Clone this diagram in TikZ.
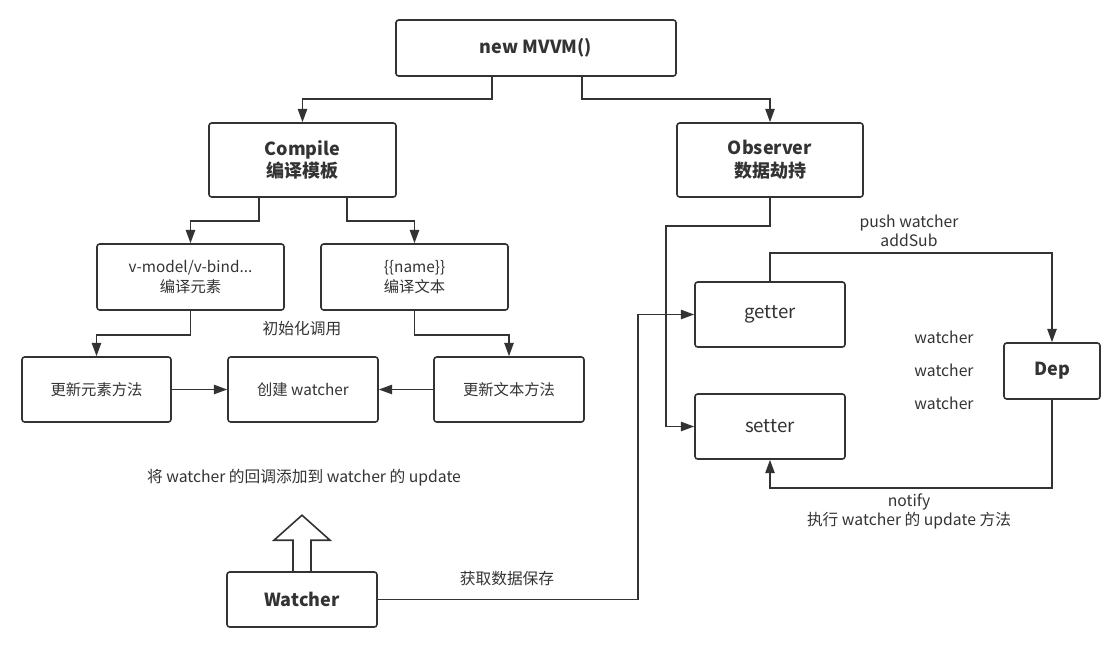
\documentclass[tikz,border=0pt]{standalone}
\usepackage{fontspec}
\setmainfont{Noto Sans CJK SC}
\usetikzlibrary{arrows.meta,calc}
\definecolor{ink}{HTML}{333333}
\tikzset{
  box/.style={draw=ink, line width=1.2pt, rounded corners=2pt, text=ink, align=center, inner sep=0pt},
  big/.style={box, font=\fontsize{13.5}{17}\selectfont\bfseries},
  small/.style={box, font=\fontsize{11.5}{15}\selectfont},
  mid/.style={box, font=\fontsize{14}{17}\selectfont},
  lbl/.style={text=ink, align=center, inner sep=0pt, font=\fontsize{11.8}{14.5}\selectfont},
  conn/.style={draw=ink, line width=1.2pt},
  arr/.style={conn, -{Triangle[length=10pt,width=7pt]}},
}
\begin{document}
\begin{tikzpicture}[x=0.75pt,y=-0.75pt]
\useasboundingbox (0,0) rectangle (1118,644);
% nodes
\node[big, minimum width=210pt, minimum height=42pt] (mvvm) at (536,48) {new MVVM()};
\node[big, minimum width=140.25pt, minimum height=55.5pt] (compile) at (302.5,160) {Compile\\编译模板};
\node[big, minimum width=139.5pt, minimum height=55.5pt] (observer) at (770,160) {Observer\\数据劫持};
\node[small, minimum width=140.25pt, minimum height=49.5pt] (vmodel) at (190.5,277) {v-model/v-bind...\\编译元素};
\node[small, minimum width=140.25pt, minimum height=49.5pt] (name) at (414.5,277) {\{\{name\}\}\\编译文本};
\node[small, minimum width=111.75pt, minimum height=48.75pt] (upel) at (96.5,389.5) {更新元素方法};
\node[small, minimum width=112.5pt, minimum height=48.75pt] (create) at (303,389.5) {创建 watcher};
\node[small, minimum width=112.5pt, minimum height=48.75pt] (uptext) at (509,389.5) {更新文本方法};
\node[mid, minimum width=112.5pt, minimum height=48.75pt] (getter) at (770,314.5) {getter};
\node[mid, minimum width=112.5pt, minimum height=48.75pt] (setter) at (770,426.5) {setter};
\node[big, minimum width=72pt, minimum height=42pt] (dep) at (1052,371) {Dep};
\node[big, minimum width=112.5pt, minimum height=41.25pt] (watcher) at (302,599.5) {Watcher};
% labels
\node[lbl] (linit) at (302,329) {初始化调用};
\node[lbl] (lcb) at (304,478) {将 watcher 的回调添加到 watcher 的 update};
\node[lbl] (lpush) at (909,230.5) {push watcher\\addSub};
\node[lbl] (lw1) at (944,337) {watcher};
\node[lbl] (lw2) at (944,370) {watcher};
\node[lbl] (lw3) at (944,403) {watcher};
\node[lbl] (lnotify) at (909,511.5) {notify\\执行 watcher 的 update 方法};
\node[lbl] (lget) at (507,579) {获取数据保存};
% connectors
\draw[arr] ($(mvvm.south)+(-44,0)$) -- ++(0,22) -| (compile.north);
\draw[arr] ($(mvvm.south)+(46,0)$) -- ++(0,22) -| (observer.north);
\draw[arr] ($(compile.south)+(-43.5,0)$) -- ++(0,23) -| (vmodel.north);
\draw[arr] ($(compile.south)+(44.5,0)$) -- ++(0,23) -| (name.north);
\draw[arr] (vmodel.south) -- ++(0,24) -| (upel.north);
\draw[arr] (name.south) -- ++(0,24) -| (uptext.north);
\draw[arr] (upel.east) -- (create.west);
\draw[arr] (uptext.west) -- (create.east);
\draw[arr] (observer.south) -- ++(0,28) -| ($(setter.west)+(-28,0)$) -- (setter.west);
\draw[arr] (getter.north) -- ++(0,-28) -| (dep.north);
\draw[arr] (dep.south) -- ++(0,88) -| (setter.south);
\draw[arr] (watcher.east) -| ($(getter.west)+(-56,0)$) -- (getter.west);
% hollow arrow
\draw[conn, line join=miter] ($(watcher.north)+(-9,0)$) -- ++(0,-31) -- ++(-19,0)
  -- ($(watcher.north)+(0,-56)$) -- ($(watcher.north)+(28,-31)$) -- ++(-19,0) -- ($(watcher.north)+(9,0)$);
\end{tikzpicture}
\end{document}
